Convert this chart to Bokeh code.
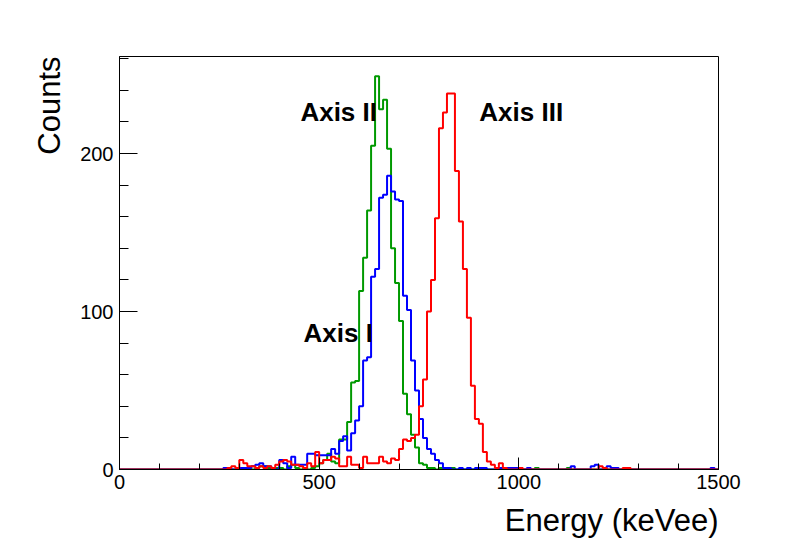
import numpy as np
from bokeh.plotting import figure
from bokeh.models import SingleIntervalTicker, Range1d, Title
from bokeh.embed import file_html
from bokeh.resources import INLINE
from bokeh.core.properties import value

# ---- data: 150 bins of 10 keVee from 0 to 1500 ----
bin_width = 10
x_start, x_end = 0, 1500

green_counts = [
    0, 0, 0, 0, 0, 0, 0, 0, 0, 0,
    0, 0, 0, 0, 0, 0, 0, 0, 0, 0,
    0, 0, 0, 0, 0, 0, 0, 0, 0, 0,
    1, 0, 1, 0, 1, 2, 2, 1, 0, 1,
    1, 0, 2, 3, 1, 0, 1, 0, 1, 2,
    4, 6, 10, 5, 4, 19, 19, 30, 55, 56,
    113, 134, 164, 205, 249, 228, 234, 203, 140, 118,
    94, 48, 35, 22, 14, 4, 3, 1, 1, 0,
    1, 0, 0, 1, 0, 0, 0, 0, 0, 0,
    0, 0, 0, 0, 0, 0, 0, 0, 0, 0,
    0, 0, 0, 0, 1, 0, 0, 0, 0, 0,
    0, 0, 1, 0, 0, 0, 0, 0, 0, 0,
    0, 0, 0, 0, 0, 0, 0, 0, 0, 0,
    0, 0, 0, 0, 0, 0, 0, 0, 0, 0,
    0, 0, 0, 0, 0, 0, 0, 0, 0, 0,
]

blue_counts = [
    0, 0, 0, 0, 0, 0, 0, 0, 0, 0,
    0, 0, 0, 0, 0, 0, 0, 0, 0, 0,
    0, 0, 0, 0, 0, 0, 1, 1, 0, 0,
    1, 1, 1, 2, 3, 4, 2, 2, 1, 0,
    6, 4, 1, 8, 3, 3, 3, 10, 10, 9,
    9, 9, 9, 13, 10, 18, 21, 12, 23, 31,
    40, 69, 71, 122, 127, 172, 174, 186, 176, 171,
    170, 110, 101, 69, 50, 32, 20, 13, 10, 6,
    4, 1, 1, 0, 0, 1, 0, 1, 0, 1,
    1, 1, 0, 0, 0, 1, 1, 1, 1, 1,
    0, 0, 1, 0, 0, 0, 0, 0, 0, 0,
    0, 0, 0, 2, 0, 0, 0, 0, 2, 3,
    0, 0, 2, 1, 1, 0, 0, 0, 0, 0,
    0, 0, 0, 0, 0, 0, 0, 0, 0, 0,
    0, 0, 0, 0, 0, 0, 0, 0, 1, 0,
]

red_counts = [
    0, 0, 0, 0, 0, 0, 0, 0, 0, 0,
    0, 0, 0, 0, 0, 0, 0, 0, 0, 0,
    0, 0, 0, 0, 0, 0, 0, 1, 2, 1,
    6, 4, 2, 2, 1, 2, 1, 2, 1, 3,
    5, 6, 5, 3, 3, 2, 1, 4, 2, 11,
    4, 6, 6, 8, 7, 2, 2, 8, 3, 3,
    1, 8, 4, 4, 4, 8, 5, 4, 7, 6,
    13, 19, 18, 20, 22, 40, 57, 100, 120, 159,
    216, 226, 238, 238, 189, 157, 127, 96, 53, 32,
    29, 11, 5, 3, 1, 4, 1, 0, 0, 0,
    1, 0, 0, 0, 0, 0, 0, 0, 0, 0,
    0, 0, 0, 0, 0, 0, 0, 0, 0, 0,
    2, 1, 0, 0, 0, 0, 1, 1, 0, 0,
    0, 0, 0, 0, 0, 0, 0, 0, 0, 0,
    0, 0, 0, 0, 0, 0, 0, 0, 0, 0,
]

series_names = ["Axis I", "Axis II", "Axis III"]
x_title = "Energy (keVee)"
y_title = "Counts"

# ---- figure ----
edges = np.arange(x_start, x_end + bin_width, bin_width)
y_top = 1.05 * max(max(green_counts), max(blue_counts), max(red_counts))

p = figure(width=790, height=546, output_backend="svg", toolbar_location=None,
           x_range=Range1d(x_start, x_end), y_range=Range1d(0, y_top),
           min_border_left=119, min_border_right=72,
           min_border_top=56, min_border_bottom=76)
p.background_fill_color = "white"
p.border_fill_color = "white"
p.outline_line_color = "black"
p.outline_line_width = 1
p.xgrid.visible = False
p.ygrid.visible = False

FONT = "Liberation Sans"

def hist_xy(counts):
    c = np.asarray(counts, dtype=float)
    xs = np.repeat(edges, 2)[1:-1]
    ys = np.repeat(c, 2)
    return xs, ys

for counts, color in [(green_counts, "#009900"), (blue_counts, "#0000ff"), (red_counts, "#ff0000")]:
    xs, ys = hist_xy(counts)
    p.line(xs, ys, line_color=color, line_width=2)

# axes
p.xaxis.ticker = SingleIntervalTicker(interval=500, num_minor_ticks=5)
p.yaxis.ticker = SingleIntervalTicker(interval=100, num_minor_ticks=5)
for ax in (p.xaxis[0], p.yaxis[0]):
    ax.axis_line_color = "black"
    ax.major_tick_line_color = "black"
    ax.minor_tick_line_color = "black"
    ax.major_tick_out = 0
    ax.minor_tick_out = 0
    ax.major_label_text_font = FONT
    ax.major_label_text_font_size = "20px"
    ax.major_label_text_color = "black"

p.xaxis.major_tick_in = 12
p.xaxis.minor_tick_in = 6
p.yaxis.major_tick_in = 18
p.yaxis.minor_tick_in = 9
p.xaxis.major_label_standoff = 5
p.yaxis.major_label_standoff = 6

# axis titles, right-aligned at the end of each axis (ROOT style)
p.add_layout(Title(text=x_title, align="right", text_font=FONT, text_font_size="31px",
                   text_font_style="normal", text_color="black", standoff=18), "below")
p.add_layout(Title(text=y_title, align="right", text_font=FONT, text_font_size="31px",
                   text_font_style="normal", text_color="black", standoff=21), "left")

# series labels
label_kw = dict(text_font=value(FONT), text_font_size="26px", text_font_style="bold",
                text_color="black", text_align="left", text_baseline="alphabetic")
p.text(x=[461], y=[86.5], text=[series_names[0]], **label_kw)
p.text(x=[453], y=[226.5], text=[series_names[1]], **label_kw)
p.text(x=[901], y=[226.5], text=[series_names[2]], **label_kw)

open("out.html", "w").write(file_html(p, INLINE))
